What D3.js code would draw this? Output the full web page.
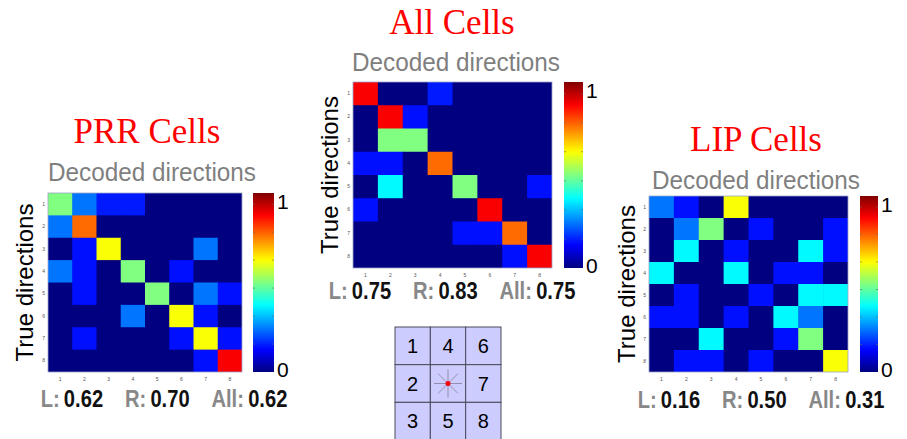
<!DOCTYPE html>
<html>
<head>
<meta charset="utf-8">
<script src="https://cdn.jsdelivr.net/npm/d3@7"></script>
<style>
  html, body { margin: 0; padding: 0; background: #fff; }
  svg { display: block; }
</style>
</head>
<body>
<svg id="chart" width="907" height="439"></svg>
<script>
// ---------------- DATA ----------------
const directions = [1, 2, 3, 4, 5, 6, 7, 8];
const colorbarTickLabels = ["0", "1"];
const colorbarInnerTicks = [10, 20, 30, 40, 50, 60]; // of 64 colormap entries

const panelTitles = ["PRR Cells", "All Cells", "LIP Cells"];
const xAxisTitle = "Decoded directions";
const yAxisTitle = "True directions";

// rows = true direction 1..8, columns = decoded direction 1..8
const prrValues = [
  [0.50, 0.24, 0.15, 0.15, 0, 0, 0, 0],
  [0.24, 0.77, 0, 0, 0, 0, 0, 0],
  [0, 0.14, 0.62, 0, 0, 0, 0.24, 0],
  [0.24, 0.14, 0, 0.50, 0, 0.14, 0, 0],
  [0, 0.14, 0, 0, 0.50, 0, 0.24, 0.14],
  [0, 0, 0, 0.24, 0, 0.62, 0.14, 0],
  [0, 0.14, 0, 0, 0, 0.14, 0.62, 0.14],
  [0, 0, 0, 0, 0, 0, 0.14, 0.88]
];
const allValues = [
  [0.88, 0, 0, 0.15, 0, 0, 0, 0],
  [0, 0.88, 0.14, 0, 0, 0, 0, 0],
  [0, 0.50, 0.50, 0, 0, 0, 0, 0],
  [0.14, 0.14, 0, 0.77, 0, 0, 0, 0],
  [0, 0.37, 0, 0, 0.50, 0, 0, 0.14],
  [0.14, 0, 0, 0, 0, 0.88, 0, 0],
  [0, 0, 0, 0, 0.14, 0.14, 0.77, 0],
  [0, 0, 0, 0, 0, 0, 0.14, 0.88]
];
const lipValues = [
  [0.24, 0.14, 0, 0.62, 0, 0, 0, 0],
  [0, 0.24, 0.50, 0, 0.14, 0, 0, 0.14],
  [0, 0.37, 0, 0.14, 0, 0, 0.37, 0.14],
  [0.37, 0, 0, 0.37, 0, 0.14, 0.14, 0],
  [0, 0.14, 0, 0, 0.14, 0, 0.37, 0.37],
  [0.14, 0.14, 0, 0.14, 0, 0.37, 0.24, 0],
  [0, 0, 0.37, 0, 0, 0.14, 0.50, 0],
  [0, 0.14, 0.14, 0, 0.14, 0, 0, 0.62]
];

const statLabels = ["L:", "R:", "All:"];
const prrStats = ["0.62", "0.70", "0.62"];
const allStats = ["0.75", "0.83", "0.75"];
const lipStats = ["0.16", "0.50", "0.31"];

// direction key (3x3 grid of target positions)
const gridLabels = [
  ["1", "4", "6"],
  ["2", "",  "7"],
  ["3", "5", "8"]
];
const starAngles = [0, 45, 90, 135, 180, 225, 270, 315];

// ---------------- LAYOUT ----------------
const panels = [
  { title: panelTitles[0], values: prrValues, stats: prrStats,
    x: 48, y: 193, w: 194, h: 179, cbX: 253, cbW: 21,
    titleX: 147, titleY: 143, decX: 152, decY: 181, ylabX: 33,
    statsX: 164, statsY: 407 },
  { title: panelTitles[1], values: allValues, stats: allStats,
    x: 353, y: 82, w: 199, h: 186, cbX: 564, cbW: 19,
    titleX: 452, titleY: 34, decX: 456, decY: 71, ylabX: 338,
    statsX: 452, statsY: 299 },
  { title: panelTitles[2], values: lipValues, stats: lipStats,
    x: 649, y: 196, w: 199, h: 176, cbX: 860, cbW: 18,
    titleX: 756, titleY: 151, decX: 756, decY: 189, ylabX: 635,
    statsX: 761, statsY: 408 }
];

// MATLAB jet colormap
function jet(v) {
  const c = t => Math.max(0, Math.min(1, t));
  const r = c(1.5 - Math.abs(4 * v - 3));
  const g = c(1.5 - Math.abs(4 * v - 2));
  const b = c(1.5 - Math.abs(4 * v - 1));
  return d3.rgb(r * 255, g * 255, b * 255).formatHex();
}
const color = d3.scaleSequential(jet).domain([0, 1]);

const svg = d3.select("#chart");
svg.append("rect").attr("width", 907).attr("height", 439).attr("fill", "#fff");

// gradient for colorbars
const defs = svg.append("defs");
const grad = defs.append("linearGradient").attr("id", "jetGrad")
  .attr("x1", 0).attr("y1", 1).attr("x2", 0).attr("y2", 0);
d3.range(0, 1.0001, 0.02).forEach(t => {
  grad.append("stop").attr("offset", t).attr("stop-color", color(t));
});

const SANS = "'Liberation Sans', Arial, Helvetica, sans-serif";
const SERIF = "'Liberation Serif', 'Times New Roman', serif";

panels.forEach(p => {
  const g = svg.append("g");
  const xs = d3.scaleBand().domain(directions).range([p.x, p.x + p.w]).padding(0);
  const ys = d3.scaleBand().domain(directions).range([p.y, p.y + p.h]).padding(0);

  // base (value 0) then cells
  g.append("rect").attr("x", p.x).attr("y", p.y).attr("width", p.w).attr("height", p.h)
    .attr("fill", color(0));
  const cells = [];
  p.values.forEach((row, i) => row.forEach((v, j) => cells.push({ r: directions[i], c: directions[j], v })));
  g.selectAll("rect.cell").data(cells).enter().append("rect")
    .attr("class", "cell")
    .attr("x", d => xs(d.c)).attr("y", d => ys(d.r))
    .attr("width", d => xs.bandwidth() + (d.c === 8 ? 0 : 0.6))
    .attr("height", d => ys.bandwidth() + (d.r === 8 ? 0 : 0.6))
    .attr("fill", d => color(d.v));
  g.append("rect").attr("x", p.x).attr("y", p.y).attr("width", p.w).attr("height", p.h)
    .attr("fill", "none").attr("stroke", "#9aa3c8").attr("stroke-width", 0.8);

  // axes (tiny tick labels)
  const xAxis = g.append("g").attr("transform", `translate(0,${p.y + p.h})`)
    .call(d3.axisBottom(xs).tickSize(0).tickPadding(5));
  const yAxis = g.append("g").attr("transform", `translate(${p.x},0)`)
    .call(d3.axisLeft(ys).tickSize(0).tickPadding(3));
  [xAxis, yAxis].forEach(a => {
    a.select(".domain").remove();
    a.selectAll("text").attr("font-size", 5).attr("fill", "#555").attr("font-family", SANS);
  });

  // colorbar
  const cbScale = d3.scaleLinear().domain([0, 1]).range([p.y + p.h, p.y]);
  g.append("rect").attr("x", p.cbX).attr("y", p.y).attr("width", p.cbW).attr("height", p.h)
    .attr("fill", "url(#jetGrad)");
  g.selectAll("line.cbt").data(colorbarInnerTicks).enter().append("g").each(function (t) {
    const yy = cbScale(t / 64);
    d3.select(this).append("line").attr("x1", p.cbX).attr("x2", p.cbX + 2).attr("y1", yy).attr("y2", yy)
      .attr("stroke", "#666").attr("stroke-width", 0.6);
    d3.select(this).append("line").attr("x1", p.cbX + p.cbW - 2).attr("x2", p.cbX + p.cbW).attr("y1", yy).attr("y2", yy)
      .attr("stroke", "#666").attr("stroke-width", 0.6);
  });
  g.append("text").attr("x", p.cbX + p.cbW + 3).attr("y", cbScale(1) + 16)
    .attr("font-family", SANS).attr("font-size", 21).attr("fill", "#000").text(colorbarTickLabels[1]);
  g.append("text").attr("x", p.cbX + p.cbW + 3).attr("y", cbScale(0) + 5)
    .attr("font-family", SANS).attr("font-size", 21).attr("fill", "#000").text(colorbarTickLabels[0]);

  // titles
  g.append("text").attr("x", p.titleX).attr("y", p.titleY).attr("text-anchor", "middle")
    .attr("font-family", SERIF).attr("font-size", 35).attr("fill", "#ff0000").text(p.title);
  g.append("text").attr("x", p.decX).attr("y", p.decY).attr("text-anchor", "middle")
    .attr("font-family", SANS).attr("font-size", 26).attr("fill", "#7f7f7f")
    .attr("textLength", 208).attr("lengthAdjust", "spacingAndGlyphs").text(xAxisTitle);
  g.append("text")
    .attr("transform", `translate(${p.ylabX},${p.y + p.h / 2}) rotate(-90)`)
    .attr("text-anchor", "middle").attr("font-family", SANS).attr("font-size", 24).attr("fill", "#000")
    .text(yAxisTitle);

  // stats line
  const st = g.append("text")
    .attr("transform", `translate(${p.statsX},${p.statsY}) scale(0.84,1)`)
    .attr("text-anchor", "middle").attr("font-family", SANS).attr("font-size", 24).attr("font-weight", "bold");
  statLabels.forEach((lab, i) => {
    st.append("tspan").attr("fill", "#888").attr("dx", i === 0 ? 0 : 26).text(lab);
    st.append("tspan").attr("fill", "#111").attr("dx", 5).text(p.stats[i]);
  });
});

// direction key grid
const gx = d3.scaleBand().domain([0, 1, 2]).range([395, 501]);
const gy = d3.scaleBand().domain([0, 1, 2]).range([327, 440]);
const keyG = svg.append("g");
gridLabels.forEach((row, i) => row.forEach((lab, j) => {
  keyG.append("rect").attr("x", gx(j)).attr("y", gy(i)).attr("width", gx.bandwidth()).attr("height", gy.bandwidth())
    .attr("fill", "#ccccff").attr("stroke", "#4a4a5a").attr("stroke-width", 1);
  if (lab) {
    keyG.append("text").attr("x", gx(j) + gx.bandwidth() / 2).attr("y", gy(i) + gy.bandwidth() / 2 + 7)
      .attr("text-anchor", "middle").attr("font-family", SANS).attr("font-size", 20).attr("fill", "#000").text(lab);
  }
}));
const cx = gx(1) + gx.bandwidth() / 2, cy = gy(1) + gy.bandwidth() / 2;
starAngles.forEach(a => {
  const rad = a * Math.PI / 180;
  keyG.append("line").attr("x1", cx).attr("y1", cy)
    .attr("x2", cx + Math.cos(rad) * 14).attr("y2", cy - Math.sin(rad) * 14)
    .attr("stroke", "#8a7f9a").attr("stroke-width", 0.8);
});
keyG.append("circle").attr("cx", cx).attr("cy", cy).attr("r", 2.5).attr("fill", "#ff0000");
</script>
</body>
</html>
